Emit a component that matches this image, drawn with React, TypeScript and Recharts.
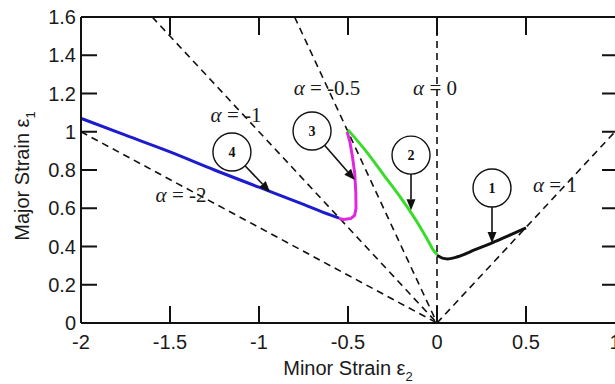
import { LineChart, Line, XAxis, YAxis, ReferenceDot, ReferenceLine, Label } from 'recharts'

const X_TICKS = [-2, -1.5, -1, -0.5, 0, 0.5, 1]
const Y_TICKS = [0, 0.2, 0.4, 0.6, 0.8, 1, 1.2, 1.4, 1.6]
const X_MARKS = [-1.5, -1, -0.5, 0, 0.5]
const Y_MARKS = [0.2, 0.4, 0.6, 0.8, 1, 1.2, 1.4]

// strain paths, x = minor strain e2, y = major strain e1
const PATH_1 = [
  { x: 0, y: 0.355 }, { x: 0.03, y: 0.339 }, { x: 0.06, y: 0.335 }, { x: 0.1, y: 0.342 },
  { x: 0.15, y: 0.358 }, { x: 0.2, y: 0.378 }, { x: 0.3, y: 0.415 }, { x: 0.4, y: 0.456 },
  { x: 0.5, y: 0.497 },
]
const PATH_2 = [
  { x: -0.5, y: 1.01 }, { x: -0.4, y: 0.9 }, { x: -0.3, y: 0.775 }, { x: -0.2, y: 0.65 },
  { x: -0.1, y: 0.51 }, { x: -0.05, y: 0.43 }, { x: -0.02, y: 0.38 }, { x: 0, y: 0.358 },
]
const PATH_3 = [
  { x: -0.505, y: 1.0 }, { x: -0.49, y: 0.95 }, { x: -0.475, y: 0.87 }, { x: -0.462, y: 0.78 },
  { x: -0.456, y: 0.68 }, { x: -0.455, y: 0.6 }, { x: -0.463, y: 0.562 }, { x: -0.485, y: 0.546 },
  { x: -0.525, y: 0.541 }, { x: -0.55, y: 0.546 },
]
const PATH_4 = [
  { x: -2, y: 1.07 }, { x: -1.75, y: 0.982 }, { x: -1.5, y: 0.895 }, { x: -1.25, y: 0.8 },
  { x: -1, y: 0.71 }, { x: -0.75, y: 0.62 }, { x: -0.6, y: 0.565 }, { x: -0.55, y: 0.548 },
]

// constant strain-ratio lines
const ALPHA_M2 = [{ x: -2, y: 1 }, { x: 0, y: 0 }]
const ALPHA_M1 = [{ x: -1.6, y: 1.6 }, { x: 0, y: 0 }]
const ALPHA_M05 = [{ x: -0.8, y: 1.6 }, { x: 0, y: 0 }]
const ALPHA_0 = [{ x: 0, y: 1.6 }, { x: 0, y: 0 }]
const ALPHA_1 = [{ x: 0, y: 0 }, { x: 1, y: 1 }]

const ALPHA_LABELS = [
  { text: '-2', x: -1.438, y: 0.633 },
  { text: '-1', x: -1.129, y: 1.051 },
  { text: '-0.5', x: -0.618, y: 1.192 },
  { text: '0', x: -0.011, y: 1.192 },
  { text: '1', x: 0.663, y: 0.685 },
]

const CALLOUTS = [
  { n: '1', x: 0.309, y: 0.706, tipX: 0.309, tipY: 0.418 },
  { n: '2', x: -0.146, y: 0.878, tipX: -0.146, tipY: 0.59 },
  { n: '3', x: -0.702, y: 1.004, tipX: -0.461, tipY: 0.748 },
  { n: '4', x: -1.152, y: 0.894, tipX: -0.938, tipY: 0.685 },
]

const SANS = '"Liberation Sans", Arial, sans-serif'
const SERIF = '"Liberation Serif", "Times New Roman", serif'
const INK = '#111'
const TXT = '#1a1a1a'
const R = 19
const AXIS_LINE = { stroke: INK, strokeWidth: 2 }
const DASH = { stroke: INK, strokeWidth: 1.6, strokeDasharray: '7 5' }
const M = 10

function BottomTick({ x, y, payload }: any) {
  return (
    <text x={x} y={y - M + 26} textAnchor="middle" fontFamily={SANS} fontSize={20} fill={TXT}>{payload.value}</text>
  )
}

function LeftTick({ x, y, payload }: any) {
  return (
    <text x={x + M - 5} y={y + 7} textAnchor="end" fontFamily={SANS} fontSize={20} fill={TXT}>{payload.value}</text>
  )
}

// inward tick stubs at both ends of a segment spanning the plot
function VStubs(p: any) {
  const top = Math.min(p.y1, p.y2), bot = Math.max(p.y1, p.y2)
  return (
    <path d={`M${p.x1},${top}V${top + 18}M${p.x1},${bot}V${bot - 17}`} stroke={INK} strokeWidth={2} fill="none" />
  )
}

function HStubs(p: any) {
  const left = Math.min(p.x1, p.x2), right = Math.max(p.x1, p.x2)
  return (
    <path d={`M${left},${p.y1}H${left + 16}M${right},${p.y1}H${right - 13}`} stroke={INK} strokeWidth={2} fill="none" />
  )
}

function Frame(p: any) {
  return <path d={`M${p.x1},${p.y1}L${p.x2},${p.y2}`} stroke={INK} strokeWidth={2} fill="none" />
}

function Arrow(props: any) {
  const { x1, y1, x2, y2 } = props
  const dx = x2 - x1, dy = y2 - y1
  const len = Math.hypot(dx, dy) || 1
  const ux = dx / len, uy = dy / len
  const sx = x1 + ux * R, sy = y1 + uy * R
  const hl = 11, hw = 4.5
  const bx = x2 - ux * hl, by = y2 - uy * hl
  return (
    <g>
      <line x1={sx} y1={sy} x2={bx} y2={by} stroke={INK} strokeWidth={1.6} />
      <polygon points={`${x2},${y2} ${bx - uy * hw},${by + ux * hw} ${bx + uy * hw},${by - ux * hw}`} fill={INK} />
    </g>
  )
}

function XTitle({ viewBox }: any) {
  return (
    <text x={viewBox.x + viewBox.width / 2} y={viewBox.y + 52} textAnchor="middle" fontFamily={SANS} fontSize={20} fill={TXT}>
      Minor Strain ε<tspan fontSize={13} dy={6}>2</tspan>
    </text>
  )
}

function YTitle({ viewBox }: any) {
  const cx = 29
  const cy = viewBox.y + viewBox.height / 2 + 6
  return (
    <text x={cx} y={cy} transform={`rotate(-90 ${cx} ${cy})`} textAnchor="middle" fontFamily={SANS} fontSize={20} fill={TXT}>
      Major Strain ε<tspan fontSize={13} dy={6}>1</tspan>
    </text>
  )
}

export default function App() {
  return (
    <div style={{ position: 'absolute', left: 0, top: 0, width: 615, height: 384, overflow: 'hidden', background: '#fff' }}>
      <LineChart width={615} height={384} margin={{ top: 17, right: 0, bottom: 0, left: 0 }}>
        <XAxis
          dataKey="x" type="number" domain={[-2, 1]} ticks={X_TICKS} interval={0} allowDataOverflow
          height={61} axisLine={AXIS_LINE} tickLine={false} tickSize={0} tickMargin={M} tick={<BottomTick />}
          label={<Label content={XTitle} />}
        />
        <YAxis
          type="number" domain={[0, 1.6]} ticks={Y_TICKS} interval={0} allowDataOverflow
          width={81} axisLine={AXIS_LINE} tickLine={false} tickSize={0} tickMargin={M} tick={<LeftTick />}
          label={<Label content={YTitle} />}
        />

        {[ALPHA_M2, ALPHA_M1, ALPHA_M05, ALPHA_0, ALPHA_1].map((d, i) => (
          <Line key={`a${i}`} data={d} dataKey="y" type="linear" {...DASH} dot={false} activeDot={false} isAnimationActive={false} />
        ))}

        <Line data={PATH_4} dataKey="y" type="monotone" stroke="#1c1ccf" strokeWidth={3} dot={false} activeDot={false} isAnimationActive={false} />
        <Line data={PATH_3} dataKey="y" type="linear" stroke="#e028e0" strokeWidth={3} dot={false} activeDot={false} isAnimationActive={false} />
        <Line data={PATH_2} dataKey="y" type="monotone" stroke="#3adc2a" strokeWidth={3} dot={false} activeDot={false} isAnimationActive={false} />
        <Line data={PATH_1} dataKey="y" type="monotone" stroke={INK} strokeWidth={3} dot={false} activeDot={false} isAnimationActive={false} />

        {/* top frame line and inward tick marks */}
        <ReferenceLine segment={[{ x: -2, y: 1.6 }, { x: 1, y: 1.6 }]} ifOverflow="visible" shape={Frame} />
        {X_MARKS.map((v) => (
          <ReferenceLine key={`xm${v}`} segment={[{ x: v, y: 0 }, { x: v, y: 1.6 }]} ifOverflow="visible" shape={VStubs} />
        ))}
        {Y_MARKS.map((v) => (
          <ReferenceLine key={`ym${v}`} segment={[{ x: -2, y: v }, { x: 1, y: v }]} ifOverflow="visible" shape={HStubs} />
        ))}

        {ALPHA_LABELS.map((a) => (
          <ReferenceDot
            key={`l${a.text}`} x={a.x} y={a.y} ifOverflow="visible"
            shape={(p: any) => (
              <text x={p.cx} y={p.cy} textAnchor="middle" fontFamily={SERIF} fontSize={21} fill={TXT}>
                <tspan fontStyle="italic">α</tspan> = {a.text}
              </text>
            )}
          />
        ))}

        {CALLOUTS.map((c) => (
          <ReferenceLine
            key={`ar${c.n}`} segment={[{ x: c.x, y: c.y }, { x: c.tipX, y: c.tipY }]} ifOverflow="visible"
            shape={Arrow}
          />
        ))}
        {CALLOUTS.map((c) => (
          <ReferenceDot
            key={`c${c.n}`} x={c.x} y={c.y} ifOverflow="visible"
            shape={(p: any) => (
              <g>
                <circle cx={p.cx} cy={p.cy} r={R} fill="none" stroke={INK} strokeWidth={1.4} />
                <text x={p.cx} y={p.cy + 5} textAnchor="middle" fontFamily={SERIF} fontWeight="bold" fontSize={14} fill={INK}>
                  {c.n}
                </text>
              </g>
            )}
          />
        ))}
      </LineChart>
    </div>
  )
}
